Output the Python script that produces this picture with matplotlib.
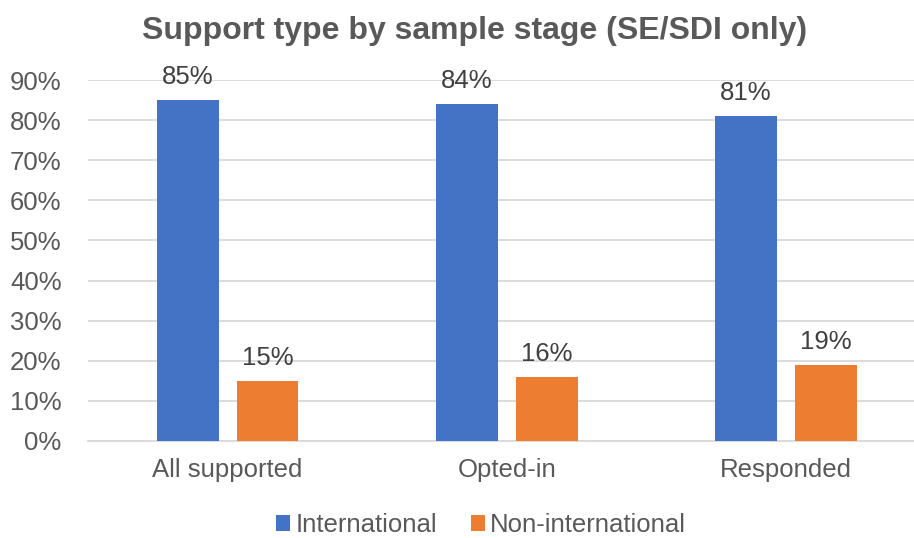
import matplotlib
matplotlib.use("Agg")
import matplotlib.pyplot as plt
import numpy as np

plt.rcParams['font.family'] = ['Liberation Sans', 'DejaVu Sans']

# data
stages = ['All supported', 'Opted-in', 'Responded']
international = [85, 84, 81]
non_international = [15, 16, 19]
series_names = ['International', 'Non-international']
y_ticks = [0, 10, 20, 30, 40, 50, 60, 70, 80, 90]

blue = '#4472C4'
orange = '#ED7D31'
grey_text = '#595959'

fig = plt.figure(figsize=(9.14, 5.38), dpi=100)
ax = fig.add_axes([88 / 914, 97 / 538, 837.5 / 914, 361 / 538])

x = np.arange(len(stages))
off = 0.143
w = 0.222
b1 = ax.bar(x - off, international, w, color=blue, label=series_names[0], zorder=3)
b2 = ax.bar(x + off, non_international, w, color=orange, label=series_names[1], zorder=3)

# value labels above the bars
for bars, vals in ((b1, international), (b2, non_international)):
    for r, v in zip(bars, vals):
        ax.annotate(f'{v}%', (r.get_x() + r.get_width() / 2, v),
                    xytext=(0, 8), textcoords='offset points',
                    ha='center', va='bottom', fontsize=18.5, color='#404040')

ax.set_xlim(-0.5, 2.5)
ax.set_ylim(0, 90)
ax.set_yticks(y_ticks)
ax.set_yticklabels([f'{t}%' for t in y_ticks])
ax.set_xticks(x)
ax.set_xticklabels(stages)
ax.tick_params(axis='y', length=0, pad=19, labelsize=18.5, labelcolor=grey_text)
ax.tick_params(axis='x', length=0, pad=12, labelsize=18.5, labelcolor=grey_text)

ax.grid(axis='y', color='#D9D9D9', linewidth=1.3, zorder=0)
for s in ['top', 'right', 'left']:
    ax.spines[s].set_visible(False)
ax.spines['bottom'].set_color('#D9D9D9')
ax.spines['bottom'].set_linewidth(1.3)

fig.text(475 / 914, 1 - 31 / 538, 'Support type by sample stage (SE/SDI only)',
         ha='center', va='center', fontsize=23, fontweight='bold', color=grey_text)

fig.legend(handles=[b1, b2], loc='center', bbox_to_anchor=(481 / 914, 13 / 538),
           ncol=2, frameon=False, fontsize=18.5, handlelength=0.55, handleheight=0.55,
           handletextpad=0.2, columnspacing=1.3, labelcolor=grey_text,
           borderpad=0.1)

fig.savefig('out.png', dpi=100)
